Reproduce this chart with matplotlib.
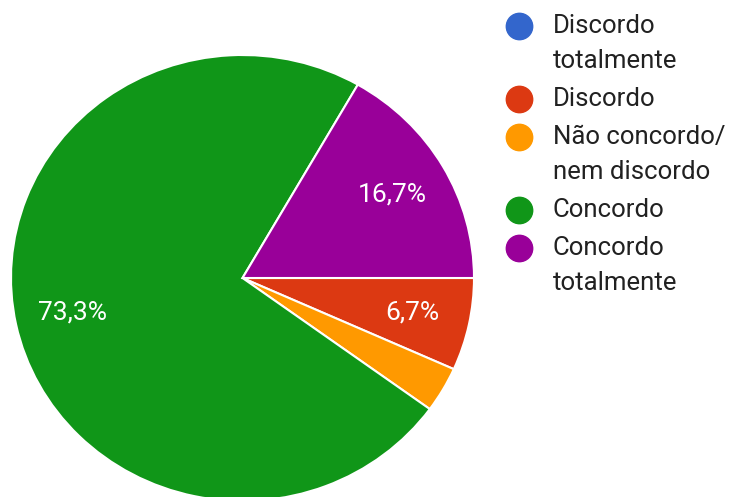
import matplotlib.pyplot as plt
from matplotlib.lines import Line2D

plt.rcParams['font.family'] = ['Roboto', 'DejaVu Sans']

# Données (30 réponses)
categorias = ['Discordo\ntotalmente', 'Discordo', 'Não concordo/\nnem discordo',
              'Concordo', 'Concordo\ntotalmente']
valores = [0.0, 6.7, 3.3, 73.3, 16.7]
cores = ['#3366cc', '#dc3912', '#ff9900', '#109618', '#990099']

W, H = 731, 497
fig = plt.figure(figsize=(W / 100, H / 100), dpi=100)

# axes placées en pixels : le disque est un peu étiré horizontalement
x0, x1 = 11, 474
y_top, y_bot = 55, 501
ax = fig.add_axes([x0 / W, (H - y_bot) / H, (x1 - x0) / W, (y_bot - y_top) / H])


def rotulo(p):
    if p < 5:
        return ''
    return f'{p:.1f}%'.replace('.', ',')


wedges, textos, autotextos = ax.pie(
    valores, colors=cores, startangle=0, counterclock=False,
    autopct=rotulo, pctdistance=0.75, radius=1,
    wedgeprops=dict(edgecolor='white', linewidth=1.5),
    textprops=dict(color='white', fontsize=19))
ax.set_xlim(-1, 1)
ax.set_ylim(-1, 1)
ax.set_aspect('auto')

# légende manuelle, marqueur aligné avec la première ligne
y = 26
for cat, cor in zip(categorias, cores):
    linhas = cat.split('\n')
    fig.add_artist(Line2D([519 / W], [1 - y / H], marker='o', markersize=19,
                          color=cor, linestyle='None', transform=fig.transFigure))
    for i, l in enumerate(linhas):
        fig.text(553 / W, 1 - (y + i * 35) / H, l, fontsize=18.5, color='#212121',
                 va='center', ha='left')
    y += 35 * len(linhas) + 3

fig.savefig('out.png', dpi=100)
